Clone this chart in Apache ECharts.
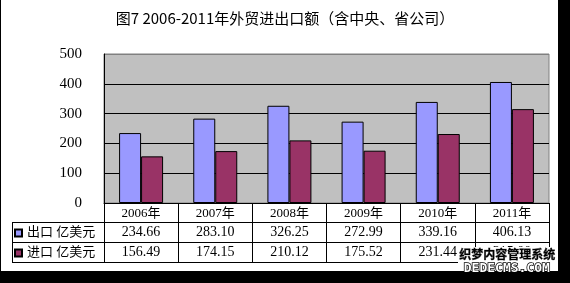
<!DOCTYPE html>
<html><head><meta charset="utf-8">
<script src="https://cdn.jsdelivr.net/npm/echarts@6/dist/echarts.min.js"></script>
<style>
html,body{margin:0;padding:0;background:#000;}
#wrap{position:relative;width:570px;height:283px;background:#000;}
#paper{position:absolute;left:1px;top:0;width:557px;height:271px;background:#fff;}
#chart{position:absolute;left:0;top:0;width:570px;height:283px;}
</style></head>
<body>
<div id="wrap"><div id="paper"></div><div id="chart"></div></div>
<script>
const title = '图7 2006-2011年外贸进出口额（含中央、省公司）';
const categories = ['2006年','2007年','2008年','2009年','2010年','2011年'];
const exportName = '出口 亿美元';
const importName = '进口 亿美元';
const exportValues = [234.66, 283.10, 326.25, 272.99, 339.16, 406.13];
const importValues = [156.49, 174.15, 210.12, 175.52, 231.44, 315.00];
const yTicks = [0, 100, 200, 300, 400, 500];

const SERIF = "'Liberation Serif', 'Noto Sans CJK SC', serif";
const fmt = v => v.toFixed(2);

const chart = echarts.init(document.getElementById('chart'), null, {renderer:'canvas'});
chart.setOption({
  backgroundColor: 'transparent',
  animation: false,
  title: {
    text: title, left: 'center', top: 6,
    textStyle: {fontFamily: "'Noto Sans CJK SC', sans-serif", fontSize: 15, fontWeight: 'normal', color: '#000'}
  },
  legend: {
    orient: 'vertical', left: 14, top: 226, padding: 0,
    itemWidth: 7, itemHeight: 7, itemGap: 6,
    icon: 'rect', selectedMode: false,
    textStyle: {fontFamily: SERIF, fontSize: 13, color: '#000', lineHeight: 14},
    data: [exportName, importName]
  },
  grid: {
    left: 104, right: 21, top: 54, bottom: 80,
    show: true, backgroundColor: '#c0c0c0', borderColor: '#808080', borderWidth: 1
  },
  yAxis: {
    type: 'value', min: yTicks[0], max: yTicks[yTicks.length-1], interval: 100,
    axisLine: {show: true, lineStyle: {color: '#000', width: 1}},
    axisTick: {show: false},
    axisLabel: {margin: 22, fontFamily: SERIF, fontSize: 15, color: '#000'},
    splitLine: {show: true, lineStyle: {color: ['#000','#000','#000','#000','#000','#808080'], width: 1}}
  },
  xAxis: [
    {
      type: 'category', data: categories, position: 'bottom',
      axisLine: {show: true, lineStyle: {color: '#000', width: 1}},
      axisTick: {show: true, length: 59, lineStyle: {color: '#000'}},
      axisLabel: {margin: 4, fontFamily: SERIF, fontSize: 13, color: '#000'}
    },
    {
      type: 'category', data: exportValues.map(fmt), position: 'bottom', offset: 19,
      axisLine: {show: true, lineStyle: {color: '#000', width: 1}},
      axisTick: {show: false},
      axisLabel: {margin: 3, fontFamily: SERIF, fontSize: 14, color: '#000'}
    },
    {
      type: 'category', data: importValues.map(fmt), position: 'bottom', offset: 39,
      axisLine: {show: true, lineStyle: {color: '#000', width: 1}},
      axisTick: {show: false},
      axisLabel: {margin: 3, fontFamily: SERIF, fontSize: 14, color: '#000'}
    },
    {
      type: 'category', data: categories, position: 'bottom', offset: 59,
      axisLine: {show: true, lineStyle: {color: '#000', width: 1}},
      axisTick: {show: false},
      axisLabel: {show: false}
    }
  ],
  series: [
    {
      name: exportName, type: 'bar', data: exportValues, barWidth: 22, barGap: '0%',
      itemStyle: {color: '#9999ff', borderColor: '#000', borderWidth: 1}
    },
    {
      name: importName, type: 'bar', data: importValues, barWidth: 22,
      itemStyle: {color: '#993366', borderColor: '#000', borderWidth: 1}
    }
  ],
  graphic: [
    {type: 'line', shape: {x1: 12, y1: 222.5, x2: 104, y2: 222.5}, style: {stroke: '#000', lineWidth: 1}},
    {type: 'line', shape: {x1: 12, y1: 242.5, x2: 104, y2: 242.5}, style: {stroke: '#000', lineWidth: 1}},
    {type: 'line', shape: {x1: 12, y1: 262.5, x2: 104, y2: 262.5}, style: {stroke: '#000', lineWidth: 1}},
    {type: 'line', shape: {x1: 12.5, y1: 222, x2: 12.5, y2: 263}, style: {stroke: '#000', lineWidth: 1}},
    {type: 'rect', zlevel: 5, shape: {x: 458, y: 247, width: 100, height: 24}, style: {fill: '#fff'}},
    {type: 'text', zlevel: 5, z: 10, left: 459, top: 248, style: {text: '织梦内容管理系统', font: "bold 12px 'Noto Sans CJK SC'", fill: '#000', stroke: '#888', lineWidth: 0.6}},
    {type: 'text', zlevel: 5, z: 10, left: 463, top: 261, style: {text: 'DEDECMS.COM', font: "bold 13px 'DejaVu Sans Mono'", fill: '#fff', stroke: '#000', lineWidth: 1.5}}
  ]
});
</script>
</body></html>
